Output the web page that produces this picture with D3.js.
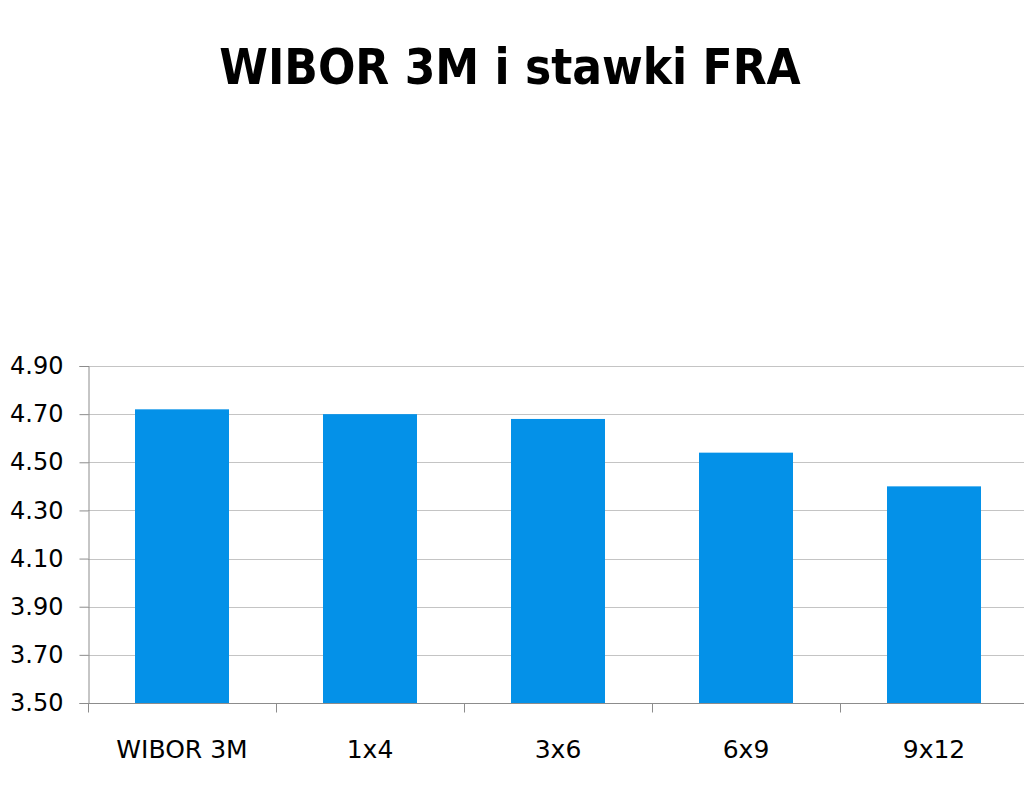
<!DOCTYPE html>
<html>
<head>
<meta charset="utf-8">
<script src="https://cdn.jsdelivr.net/npm/d3@7"></script>
<style>
  html, body { margin: 0; padding: 0; background: #fff; }
  svg { display: block; }
</style>
</head>
<body>
<div id="chart"></div>
<script>
// Data
const categories = ['WIBOR 3M', '1x4', '3x6', '6x9', '9x12'];
const rates = [4.72, 4.70, 4.68, 4.54, 4.40];
const yTicks = [3.50, 3.70, 3.90, 4.10, 4.30, 4.50, 4.70, 4.90];
const chartTitle = 'WIBOR 3M i stawki FRA';

const width = 1024, height = 791;
const margin = { top: 366, right: -4, bottom: 88, left: 88 };

const svg = d3.select('#chart').append('svg')
    .attr('width', width)
    .attr('height', height);

// Title
svg.append('text')
    .attr('x', 510)
    .attr('y', 84)
    .attr('text-anchor', 'middle')
    .style('font-family', '"DejaVu Sans Condensed", "DejaVu Sans", sans-serif')
    .style('font-weight', 'bold')
    .style('font-size', '49px')
    .attr('fill', '#000')
    .text(chartTitle);

const x = d3.scaleBand()
    .domain(categories)
    .range([margin.left, width - margin.right])
    .paddingInner(0.5)
    .paddingOuter(0.25);

const y = d3.scaleLinear()
    .domain([3.5, 4.9])
    .range([height - margin.bottom, margin.top]);

// Gridlines
svg.append('g')
    .selectAll('line')
    .data(yTicks.slice(1))
    .join('line')
    .attr('x1', margin.left)
    .attr('x2', width)
    .attr('y1', d => Math.round(y(d)) + 0.5)
    .attr('y2', d => Math.round(y(d)) + 0.5)
    .attr('stroke', '#c4c4c4')
    .attr('stroke-width', 1.2);

// Bars
svg.append('g')
    .selectAll('rect')
    .data(categories.map((c, i) => ({ c, v: rates[i] })))
    .join('rect')
    .attr('x', d => x(d.c))
    .attr('width', x.bandwidth())
    .attr('y', d => y(d.v))
    .attr('height', d => y(3.5) - y(d.v))
    .attr('fill', '#0491e8');

// Y axis
const yAxis = svg.append('g')
    .attr('transform', `translate(${margin.left + 0.5},0)`)
    .call(d3.axisLeft(y).tickValues(yTicks).tickFormat(d3.format('.2f')).tickSize(9).tickPadding(16));
yAxis.select('.domain').attr('stroke', '#8c8c8c');
yAxis.selectAll('.tick line').attr('stroke', '#8c8c8c');
yAxis.selectAll('.tick text')
    .style('font-family', '"DejaVu Sans", sans-serif')
    .style('font-size', '24px')
    .attr('fill', '#000');

// X axis
const step = x.step();
const xAxis = svg.append('g')
    .attr('transform', `translate(0,${Math.round(y(3.5)) + 0.5})`);
xAxis.append('line')
    .attr('x1', margin.left)
    .attr('x2', width)
    .attr('stroke', '#8c8c8c');
xAxis.selectAll('line.tick')
    .data(categories)
    .join('line')
    .attr('class', 'tick')
    .attr('x1', d => Math.round(x(d) - step * 0.25) + 0.5)
    .attr('x2', d => Math.round(x(d) - step * 0.25) + 0.5)
    .attr('y1', 0)
    .attr('y2', 9)
    .attr('stroke', '#8c8c8c');
xAxis.selectAll('text')
    .data(categories)
    .join('text')
    .attr('x', d => x(d) + x.bandwidth() / 2)
    .attr('y', 54)
    .attr('text-anchor', 'middle')
    .style('font-family', '"DejaVu Sans", sans-serif')
    .style('font-size', '25px')
    .attr('fill', '#000')
    .text(d => d);
</script>
</body>
</html>
